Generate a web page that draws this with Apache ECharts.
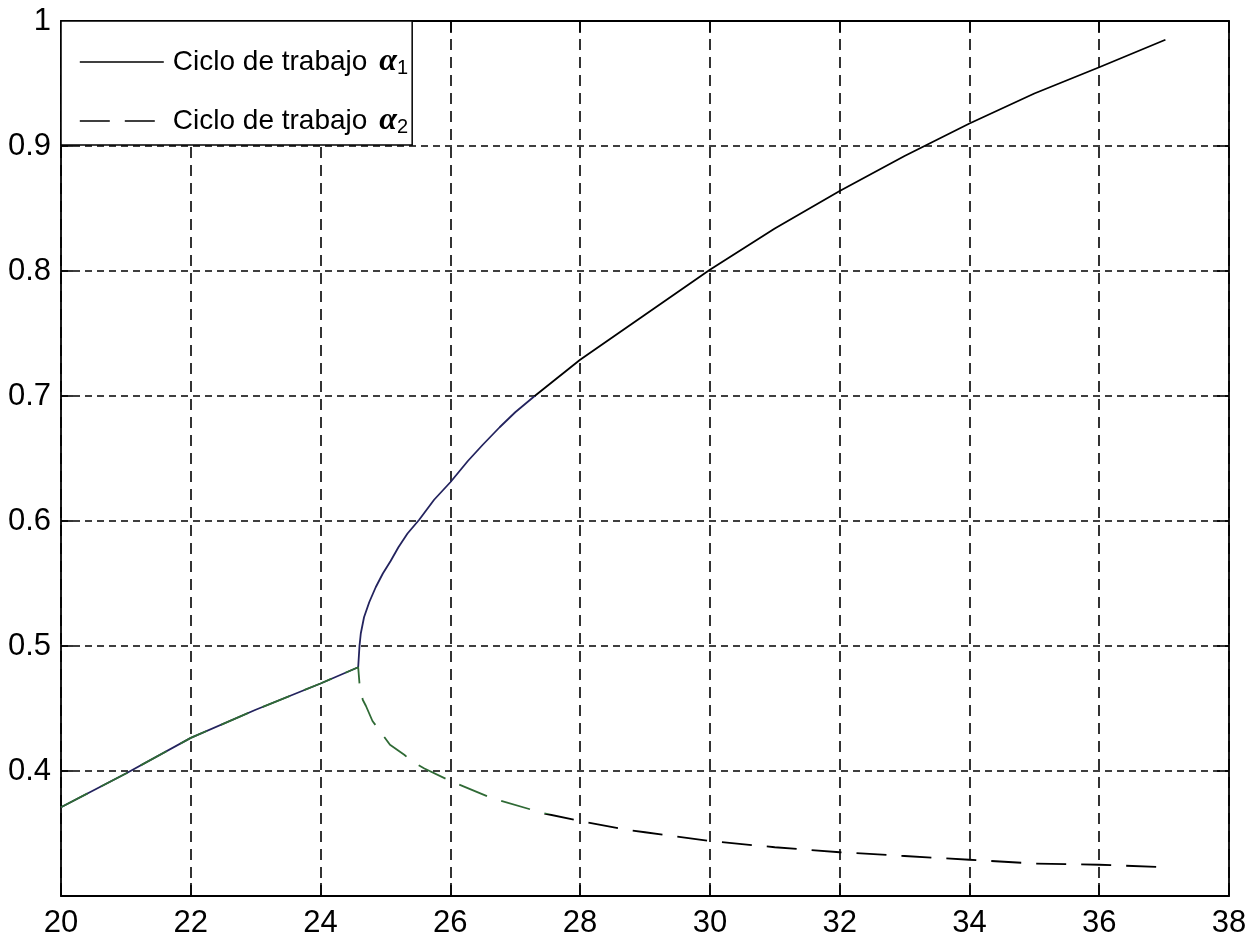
<!DOCTYPE html>
<html>
<head>
<meta charset="utf-8">
<script src="https://cdn.jsdelivr.net/npm/echarts@6/dist/echarts.min.js"></script>
<style>
html,body{margin:0;padding:0;background:#fff;}
#chart{width:1256px;height:947px;}
</style>
</head>
<body>
<div id="chart"></div>
<script>
// ---- data ----
const alpha1X = [20, 21, 22, 23, 24, 24.58, 24.6, 24.62, 24.67, 24.75, 24.85, 24.96, 25.08, 25.2, 25.34, 25.52, 25.75, 26, 26.27, 26.5, 26.76, 27.0, 27.3, 28, 29, 30, 31, 32, 33, 34, 35, 36, 37.02];
const alpha1Y = [0.371, 0.398, 0.4265, 0.449, 0.470, 0.483, 0.500, 0.510, 0.523, 0.535, 0.547, 0.558, 0.568, 0.579, 0.590, 0.601, 0.617, 0.631, 0.648, 0.661, 0.675, 0.687, 0.700, 0.729, 0.765, 0.801, 0.834, 0.864, 0.892, 0.918, 0.942, 0.963, 0.985];

const alpha2X = [20, 21, 22, 23, 24, 24.58, 24.6, 24.65, 24.7, 24.8, 24.9, 25.07, 25.29, 25.4, 25.6, 26, 26.63, 27.45, 28, 28.71, 29, 30, 31, 32, 33, 34, 35, 36, 37.02];
const alpha2Y = [0.371, 0.398, 0.4265, 0.449, 0.470, 0.483, 0.470, 0.457, 0.452, 0.440, 0.433, 0.421, 0.413, 0.408, 0.402, 0.392, 0.3785, 0.366, 0.360, 0.353, 0.351, 0.344, 0.339, 0.335, 0.332, 0.329, 0.326, 0.325, 0.323];

const xTicks = [20, 22, 24, 26, 28, 30, 32, 34, 36, 38];
const yTicks = [0.3, 0.4, 0.5, 0.6, 0.7, 0.8, 0.9, 1];
const seriesNames = ['Ciclo de trabajo α1', 'Ciclo de trabajo α2'];

// ---- chart ----
const FONT = "'Liberation Sans', Arial, sans-serif";
const zip = (xs, ys) => xs.map((x, i) => [x, ys[i]]);
const chart = echarts.init(document.getElementById('chart'), null, {renderer: 'canvas'});

const xStep = xTicks[1] - xTicks[0];
const yStep = +(yTicks[1] - yTicks[0]).toFixed(2);

function yLabel(v) {
  const r = Math.round(v * 10) / 10;
  return r === 1 ? '1' : r.toFixed(1);
}

const axisLineStyle = {color: '#000', width: 1.8};
const tickStyle = {color: '#000', width: 1.6};

chart.setOption({
  backgroundColor: '#fff',
  animation: false,
  color: ['#000', '#000'],
  grid: {left: 61, right: 27, top: 21, bottom: 51, outerBoundsMode: 'none', containLabel: false},
  xAxis: [{
    type: 'value', position: 'bottom',
    min: xTicks[0], max: xTicks[xTicks.length - 1], interval: xStep,
    axisLine: {show: true, onZero: false, lineStyle: axisLineStyle},
    axisTick: {show: true, inside: true, length: 13, lineStyle: tickStyle},
    axisLabel: {color: '#000', fontFamily: FONT, fontSize: 31, margin: 12},
    splitLine: {show: true, lineStyle: {color: '#000', width: 1.6, type: [11, 7]}}
  }, {
    type: 'value', position: 'top',
    min: xTicks[0], max: xTicks[xTicks.length - 1], interval: xStep,
    axisLine: {show: true, onZero: false, lineStyle: axisLineStyle},
    axisTick: {show: true, inside: true, length: 12, lineStyle: tickStyle},
    axisLabel: {show: false},
    splitLine: {show: false}
  }],
  yAxis: [{
    type: 'value', position: 'left',
    min: yTicks[0], max: yTicks[yTicks.length - 1], interval: yStep,
    axisLine: {show: true, onZero: false, lineStyle: axisLineStyle},
    axisTick: {show: true, inside: true, length: 12, lineStyle: tickStyle},
    axisLabel: {color: '#000', fontFamily: FONT, fontSize: 31, margin: 10, showMinLabel: false, formatter: yLabel},
    splitLine: {show: true, lineStyle: {color: '#000', width: 1.6, type: [7, 5]}}
  }, {
    type: 'value', position: 'right',
    min: yTicks[0], max: yTicks[yTicks.length - 1], interval: yStep,
    axisLine: {show: true, onZero: false, lineStyle: axisLineStyle},
    axisTick: {show: true, inside: true, length: 12, lineStyle: tickStyle},
    axisLabel: {show: false},
    splitLine: {show: false}
  }],
  visualMap: [{
    show: false, type: 'piecewise', seriesIndex: 0, dimension: 1,
    pieces: [
      {lt: 0.366, color: '#000'},
      {gte: 0.366, lte: 0.7, color: '#23235e'},
      {gt: 0.7, color: '#000'}
    ]
  }, {
    show: false, type: 'piecewise', seriesIndex: 1, dimension: 1,
    pieces: [
      {lt: 0.366, color: '#000'},
      {gte: 0.366, lte: 0.7, color: '#2f6a35'},
      {gt: 0.7, color: '#000'}
    ]
  }],
  legend: {
    orient: 'vertical',
    left: 61, top: 21,
    padding: [25, 4, 8, 18],
    itemGap: 27,
    itemWidth: 84,
    itemHeight: 14,
    backgroundColor: '#fff',
    borderColor: '#000',
    borderWidth: 1.5,
    borderRadius: 0,
    data: seriesNames,
    lineStyle: {color: '#000', width: 1.6},
    itemStyle: {opacity: 0},
    formatter: function (name) {
      const sub = name.slice(-1);
      return '{t|Ciclo de trabajo}{a|α}{s|' + sub + '}';
    },
    textStyle: {
      color: '#000',
      rich: {
        t: {fontFamily: FONT, fontSize: 28, color: '#000', padding: [0, 0, 0, 4]},
        a: {fontFamily: "'Liberation Serif', 'DejaVu Serif', serif", fontStyle: 'italic', fontWeight: 'bold', fontSize: 32, color: '#000', padding: [0, 0, 0, 12]},
        s: {fontFamily: FONT, fontSize: 20, color: '#000', verticalAlign: 'bottom', padding: [12, 0, 0, 0]}
      }
    }
  },
  series: [{
    name: seriesNames[0],
    type: 'line',
    xAxisIndex: 0, yAxisIndex: 0,
    data: zip(alpha1X, alpha1Y),
    symbol: 'none',
    smooth: false,
    lineStyle: {width: 1.8, type: 'solid'}
  }, {
    name: seriesNames[1],
    type: 'line',
    xAxisIndex: 0, yAxisIndex: 0,
    data: zip(alpha2X, alpha2Y),
    symbol: 'none',
    smooth: false,
    lineStyle: {width: 1.8, type: [30, 15]}
  }]
});
</script>
</body>
</html>
